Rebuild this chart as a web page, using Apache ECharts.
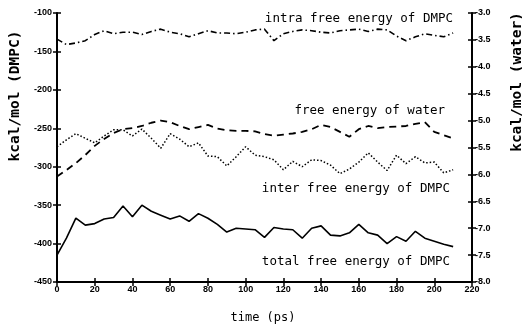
<!DOCTYPE html>
<html>
<head>
<meta charset="utf-8">
<script src="https://cdn.jsdelivr.net/npm/echarts@6/dist/echarts.min.js"></script>
<style>
html,body{margin:0;padding:0;background:#fff;}
#c{width:522px;height:326px;}
</style>
</head>
<body>
<div id="c"></div>
<script>
// time (ps)
var times = [0,5,10,15,20,25,30,35,40,45,50,55,60,65,70,75,80,85,90,95,100,105,110,115,120,125,130,135,140,145,150,155,160,165,170,175,180,185,190,195,200,205,210];
// kcal/mol (DMPC) – left axis
var intraDMPC = [-134,-141,-139,-136,-128,-123,-127,-125,-125,-128,-124,-121,-125,-127,-131,-127,-123,-126,-126,-127,-125,-122,-121,-136,-127,-124,-122,-123,-125,-126,-123,-122,-121,-124,-121,-122,-130,-136,-131,-127,-129,-131,-126];
var interDMPC = [-274,-265,-257,-263,-269,-260,-252,-252,-260,-251,-263,-276,-257,-264,-274,-269,-286,-287,-299,-287,-274,-285,-287,-291,-304,-293,-300,-291,-292,-298,-309,-303,-294,-282,-294,-305,-285,-296,-287,-295,-294,-308,-304];
var totalDMPC = [-415,-393,-367,-376,-374,-368,-366,-351,-365,-350,-358,-363,-368,-364,-371,-361,-367,-375,-385,-380,-381,-382,-392,-379,-381,-382,-393,-380,-377,-389,-390,-386,-375,-386,-389,-400,-391,-397,-384,-393,-397,-401,-404];
// kcal/mol (water) – right axis
var water = [-6.04,-5.92,-5.79,-5.64,-5.47,-5.34,-5.23,-5.16,-5.14,-5.10,-5.04,-5.00,-5.03,-5.10,-5.16,-5.12,-5.08,-5.15,-5.18,-5.19,-5.19,-5.20,-5.25,-5.28,-5.26,-5.24,-5.21,-5.16,-5.08,-5.12,-5.21,-5.30,-5.16,-5.10,-5.14,-5.12,-5.11,-5.10,-5.06,-5.03,-5.21,-5.27,-5.33];

var labels = {
  intra: 'intra free energy of DMPC',
  water: 'free energy of water',
  inter: 'inter free energy of DMPC',
  total: 'total free energy of DMPC',
  xTitle: 'time (ps)',
  yLeft: 'kcal/mol (DMPC)',
  yRight: 'kcal/mol (water)'
};

function pairs(xs, ys){ return xs.map(function(x,i){ return [x, ys[i]]; }); }

var tickFont = {color:'#000', fontFamily:'Liberation Sans', fontWeight:'bold', fontSize:9};
var mono = 'DejaVu Sans Mono';

var chart = echarts.init(document.getElementById('c'), null, {renderer:'canvas'});
chart.setOption({
  backgroundColor:'#fff',
  animation:false,
  grid:{left:57, right:50, top:13, bottom:44},
  xAxis:[{
    type:'value', min:0, max:220, interval:20, position:'bottom',
    axisLine:{show:true, onZero:false, lineStyle:{color:'#000', width:2}},
    axisTick:{show:true, length:4, lineStyle:{color:'#000', width:1.5}},
    axisLabel:Object.assign({margin:3}, tickFont),
    splitLine:{show:false}
  },{
    type:'value', min:0, max:220, interval:20, position:'bottom',
    axisLine:{show:false, onZero:false},
    axisTick:{show:true, inside:true, length:4, lineStyle:{color:'#000', width:1.5}},
    axisLabel:{show:false}, splitLine:{show:false}
  }],
  yAxis:[{
    type:'value', min:-450, max:-100, interval:50, position:'left',
    axisLine:{show:true, onZero:false, lineStyle:{color:'#000', width:2}},
    axisTick:{show:true, length:4, lineStyle:{color:'#000', width:1.5}},
    axisLabel:Object.assign({margin:5}, tickFont),
    splitLine:{show:false}
  },{
    type:'value', min:-8, max:-3, interval:0.5, position:'right',
    axisLine:{show:true, onZero:false, lineStyle:{color:'#000', width:2}},
    axisTick:{show:true, length:4, lineStyle:{color:'#000', width:1.5}},
    axisLabel:Object.assign({margin:3, formatter:function(v){return v.toFixed(1);}}, tickFont),
    splitLine:{show:false}
  },{
    type:'value', min:-450, max:-100, interval:50, position:'left',
    axisLine:{show:false, onZero:false},
    axisTick:{show:true, inside:true, length:4, lineStyle:{color:'#000', width:1.5}},
    axisLabel:{show:false}, splitLine:{show:false}
  },{
    type:'value', min:-8, max:-3, interval:0.5, position:'right',
    axisLine:{show:false, onZero:false},
    axisTick:{show:true, inside:true, length:4, lineStyle:{color:'#000', width:1.5}},
    axisLabel:{show:false}, splitLine:{show:false}
  }],
  series:[
    {type:'line', name:labels.intra, xAxisIndex:0, yAxisIndex:0, data:pairs(times,intraDMPC), symbol:'none',
     lineStyle:{color:'#000', width:1.6, type:[6,3,1.5,3]}},
    {type:'line', name:labels.inter, xAxisIndex:0, yAxisIndex:0, data:pairs(times,interDMPC), symbol:'none',
     lineStyle:{color:'#000', width:1.5, type:[1.5,2]}},
    {type:'line', name:labels.total, xAxisIndex:0, yAxisIndex:0, data:pairs(times,totalDMPC), symbol:'none',
     lineStyle:{color:'#000', width:1.6, type:'solid'}},
    {type:'line', name:labels.water, xAxisIndex:0, yAxisIndex:1, data:pairs(times,water), symbol:'none',
     lineStyle:{color:'#000', width:1.8, type:[7,5]}}
  ],
  graphic:[
    {type:'text', right:69, top:12, style:{text:labels.intra, font:'12.5px "'+mono+'"', fill:'#000'}},
    {type:'text', right:77, top:104, style:{text:labels.water, font:'12.5px "'+mono+'"', fill:'#000'}},
    {type:'text', right:72, top:182, style:{text:labels.inter, font:'12.5px "'+mono+'"', fill:'#000'}},
    {type:'text', right:72, top:255, style:{text:labels.total, font:'12.5px "'+mono+'"', fill:'#000'}},
    {type:'text', x:263, y:318, style:{text:labels.xTitle, font:'12px "'+mono+'"', fill:'#000', textAlign:'center', textVerticalAlign:'middle'}},
    {type:'text', x:15, y:96, rotation:Math.PI/2, style:{text:labels.yLeft, font:'bold 14.5px "'+mono+'"', fill:'#000', textAlign:'center', textVerticalAlign:'middle'}},
    {type:'text', x:517, y:82, rotation:Math.PI/2, style:{text:labels.yRight, font:'bold 14.5px "'+mono+'"', fill:'#000', textAlign:'center', textVerticalAlign:'middle'}}
  ]
});
</script>
</body>
</html>
